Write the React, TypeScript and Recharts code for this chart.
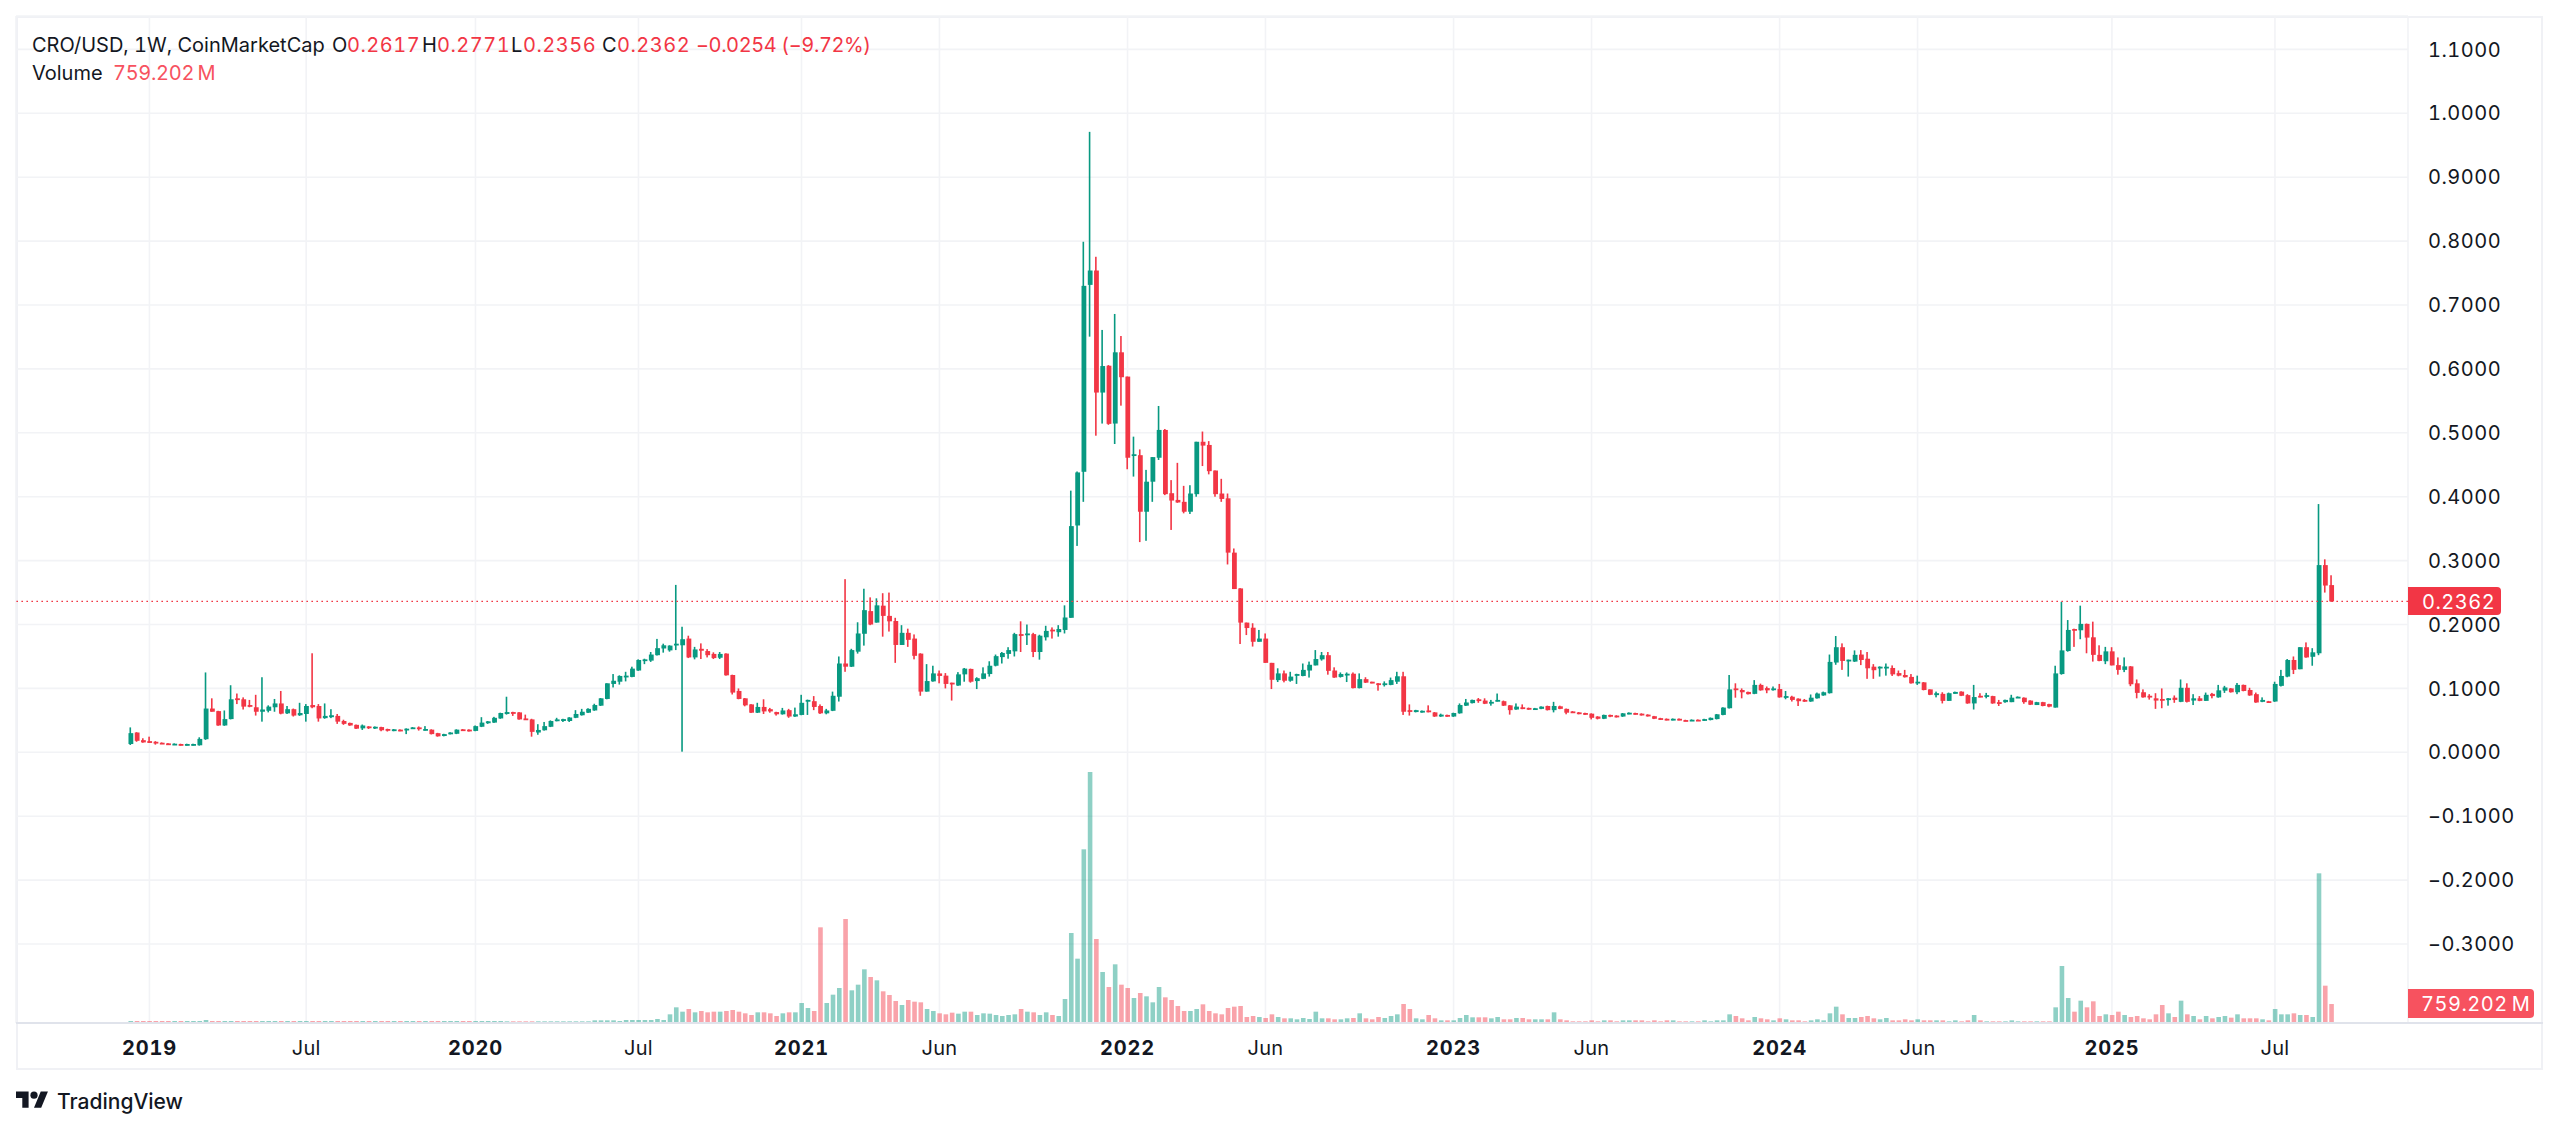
import React from "react";
import { ComposedChart, Bar, XAxis, YAxis, CartesianGrid, ReferenceLine } from "recharts";

const UP = "#089981";
const DOWN = "#F23645";
const FONT = "Inter, 'Noto Sans', sans-serif";
const INK = "#131722";

const opens = [
.013,.031,.019,.0175,.0165,.015,.014,.012,.013,.011,
.011,.011,.0205,.0685,.0645,.042,.052,.0845,.083,.074,
.0705,.0635,.065,.0705,.0765,.061,.0675,.058,.06,.074,
.0725,.0535,.055,.057,.049,.046,.043,.0375,.0405,.0385,
.0395,.0365,.0335,.0355,.0345,.037,.039,.0345,.0355,.03,
.0255,.0285,.029,.036,.0355,.0335,.04,.0455,.0465,.053,
.06,.063,.0625,.053,.0515,.031,.0345,.04,.049,.049,
.049,.054,.058,.062,.0655,.073,.0835,.107,.1105,.1175,
.118,.128,.1435,.1435,.152,.1625,.1595,.1675,.1675,.178,
.1485,.162,.1585,.154,.148,.1545,.121,.096,.0845,.075,
.062,.071,.0675,.063,.0595,.066,.056,.0585,.08,.08,
.0725,.061,.065,.087,.139,.134,.1575,.1855,.221,.203,
.2295,.2135,.2055,.168,.187,.178,.1545,.095,.111,.1235,
.12,.109,.1045,.122,.1305,.1115,.115,.1225,.1355,.149,
.154,.158,.185,.184,.185,.157,.18,.192,.188,.1915,
.2105,.355,.439,.7315,.754,.563,.605,.5145,.626,.588,
.465,.465,.3765,.4235,.461,.5045,.4055,.395,.392,.3765,
.404,.486,.481,.441,.405,.3975,.3125,.2565,.203,.195,
.173,.178,.14,.113,.1235,.112,.1205,.1195,.128,.136,
.1455,.152,.128,.118,.121,.123,.1005,.1145,.1105,.108,
.106,.1055,.1105,.119,.066,.063,.063,.0655,.0625,.056,
.0585,.056,.061,.073,.077,.083,.081,.0765,.08,.08,
.0735,.067,.0705,.0695,.067,.068,.0725,.066,.072,.068,
.064,.0625,.0615,.0605,.056,.0525,.0585,.0575,.056,.06,
.0615,.0605,.059,.0565,.0535,.0525,.0505,.0525,.0505,.0495,
.051,.0495,.0505,.052,.0585,.069,.1,.0975,.0945,.0915,
.1055,.1005,.098,.099,.0855,.087,.084,.082,.0795,.0845,
.089,.0925,.1405,.1645,.143,.142,.153,.1465,.134,.1315,
.1315,.132,.124,.121,.118,.1085,.1095,.0985,.0895,.0915,
.0805,.0915,.095,.0895,.0765,.0885,.087,.088,.0785,.0785,
.0785,.0855,.0855,.081,.074,.0785,.0755,.07,.1225,.1585,
.193,.191,.201,.18,.1525,.1425,.158,.1365,.129,.1345,
.108,.094,.0885,.0845,.0835,.0825,.0855,.079,.101,.081,
.0845,.0805,.0915,.086,.0965,.1,.094,.1055,.0975,.091,
.079,.08,.0795,.104,.1185,.1445,.13,.1645,.1495,.155,
.293,.2617];

const closes = [
.03,.018,.0155,.0155,.014,.0135,.012,.0135,.011,.013,
.013,.021,.0685,.0635,.042,.052,.083,.082,.0715,.0715,
.0635,.067,.0715,.0765,.0605,.0675,.0575,.0615,.0725,.0705,
.053,.057,.058,.048,.0445,.042,.037,.042,.038,.04,
.0345,.034,.036,.0335,.037,.039,.0365,.0365,.0285,.025,
.0285,.031,.0355,.034,.033,.041,.0465,.0485,.054,.0615,
.063,.0605,.0515,.0515,.032,.035,.041,.049,.0515,.052,
.0545,.06,.0635,.068,.074,.0845,.108,.112,.1195,.12,
.131,.1445,.1455,.153,.163,.1675,.167,.17,.177,.1485,
.161,.159,.152,.1475,.154,.1205,.0935,.0835,.0735,.062,
.071,.064,.064,.0595,.0655,.056,.0595,.0775,.082,.071,
.061,.0655,.0885,.139,.134,.16,.186,.2225,.2,.23,
.2135,.205,.168,.187,.176,.151,.095,.1115,.1235,.1195,
.107,.107,.122,.131,.1105,.116,.1235,.1355,.1505,.1555,
.16,.185,.184,.186,.157,.1825,.19,.19,.193,.211,
.354,.438,.73,.754,.563,.6045,.514,.626,.587,.461,
.4665,.3765,.4235,.462,.5045,.404,.394,.391,.3765,.405,
.486,.48,.44,.404,.3965,.3125,.2555,.203,.1945,.173,
.178,.14,.1135,.1235,.112,.1185,.1225,.129,.137,.146,
.152,.1275,.117,.1225,.123,.1005,.1145,.109,.1085,.106,
.108,.113,.119,.0635,.0635,.066,.065,.063,.056,.059,
.056,.0615,.074,.078,.082,.081,.076,.079,.082,.073,
.066,.0715,.068,.067,.069,.0715,.066,.0725,.068,.062,
.062,.06,.059,.054,.0525,.0585,.0565,.055,.061,.062,
.0595,.058,.0565,.0525,.0515,.0505,.0525,.0505,.0495,.051,
.0495,.052,.054,.0595,.07,.0985,.098,.094,.091,.1055,
.097,.097,.1,.086,.088,.082,.08,.0795,.0855,.092,
.094,.1415,.1645,.143,.145,.1525,.1445,.1315,.1285,.134,
.134,.122,.12,.1175,.108,.1105,.0975,.09,.0925,.0805,
.0925,.0945,.0885,.0765,.0865,.0865,.0895,.0765,.0765,.082,
.0855,.087,.0785,.0745,.0785,.0725,.0715,.1235,.1595,.1915,
.191,.201,.1795,.1525,.143,.158,.136,.129,.1345,.1065,
.093,.086,.0865,.081,.081,.0845,.082,.101,.079,.0845,
.0805,.09,.088,.097,.1015,.094,.1055,.096,.089,.078,
.082,.079,.107,.1195,.1445,.129,.1645,.1485,.1565,.293,
.261,.2362];

const highs = [
.039,.0315,.022,.0245,.0175,.0155,.0145,.014,.0135,.0135,
.0135,.0235,.125,.0845,.065,.0655,.105,.092,.086,.082,
.09,.1175,.0735,.0835,.096,.0725,.0685,.0775,.0755,.155,
.0755,.0765,.0675,.06,.051,.0465,.0435,.0435,.041,.0405,
.04,.037,.0365,.036,.0375,.0395,.0405,.041,.036,.0305,
.029,.0315,.036,.0365,.036,.042,.055,.049,.0555,.062,
.087,.0635,.063,.059,.0525,.044,.0475,.05,.054,.0525,
.055,.066,.068,.069,.076,.085,.108,.1225,.1205,.126,
.134,.1455,.1465,.157,.1775,.17,.1675,.262,.1965,.1825,
.165,.1705,.1615,.1565,.157,.155,.1215,.1,.085,.0755,
.0775,.083,.0695,.0635,.0695,.068,.07,.09,.0825,.088,
.075,.068,.095,.15,.271,.162,.2035,.256,.2425,.241,
.249,.25,.2105,.199,.1935,.1845,.155,.138,.1355,.128,
.124,.109,.1255,.132,.131,.1175,.133,.1425,.153,.157,
.1645,.187,.205,.2,.187,.184,.198,.1955,.199,.23,
.4095,.4395,.799,.971,.7755,.661,.606,.686,.6515,.588,
.494,.474,.442,.462,.542,.506,.426,.453,.417,.418,
.486,.502,.487,.441,.428,.405,.319,.257,.203,.202,
.1915,.186,.14,.1315,.128,.126,.123,.139,.142,.16,
.157,.157,.133,.125,.125,.125,.1235,.1175,.1105,.1085,
.111,.117,.126,.126,.075,.0665,.0655,.0735,.063,.0605,
.059,.062,.0765,.0835,.0825,.085,.0845,.082,.092,.081,
.074,.0765,.075,.07,.0695,.072,.073,.079,.073,.0685,
.0645,.063,.062,.061,.0565,.059,.059,.058,.0615,.0625,
.062,.061,.0595,.057,.054,.053,.053,.053,.051,.0515,
.0515,.0525,.0545,.06,.0705,.121,.108,.1,.095,.113,
.1075,.103,.103,.107,.096,.0885,.0845,.0835,.0905,.0935,
.095,.153,.182,.1705,.145,.1595,.16,.157,.138,.1345,
.139,.136,.128,.129,.1225,.12,.11,.0985,.095,.094,
.0935,.095,.0955,.091,.1055,.0925,.093,.0885,.082,.0825,
.09,.0875,.086,.0815,.079,.079,.076,.1355,.2355,.207,
.1935,.2295,.2015,.2045,.1675,.165,.1645,.1485,.1485,.135,
.114,.0985,.091,.0925,.1,.085,.089,.114,.108,.091,
.088,.0935,.093,.1055,.104,.1005,.1085,.106,.101,.0935,
.086,.0805,.1105,.129,.146,.15,.1645,.172,.163,.3885,
.302,.2771];

const lows = [
.0115,.0165,.015,.015,.012,.013,.0115,.0115,.0105,.0105,
.0105,.0105,.0195,.0635,.0415,.0415,.0515,.0755,.067,.0705,
.0575,.048,.0625,.0635,.0595,.06,.056,.057,.048,.069,
.048,.0525,.0535,.0445,.043,.0415,.0365,.035,.0365,.0365,
.033,.0325,.033,.033,.0285,.0365,.034,.034,.028,.0245,
.025,.028,.0285,.0335,.0325,.033,.0395,.0445,.046,.0525,
.059,.057,.051,.051,.0245,.0275,.034,.0395,.0485,.0475,
.0475,.0535,.0575,.0615,.065,.0725,.083,.1015,.106,.111,
.1175,.1275,.138,.1415,.1515,.156,.1575,.16,.001,.1475,
.1455,.146,.1485,.146,.146,.12,.0905,.083,.072,.0615,
.0615,.06,.062,.0575,.059,.054,.0555,.058,.0585,.066,
.06,.0595,.0645,.0795,.126,.1335,.1545,.167,.199,.203,
.181,.189,.14,.168,.165,.1455,.0885,.095,.1105,.108,
.1,.081,.104,.1105,.109,.099,.1145,.1185,.1345,.139,
.1465,.15,.157,.168,.149,.145,.175,.178,.181,.186,
.2105,.323,.392,.6505,.4955,.5145,.5125,.4825,.5425,.443,
.4315,.329,.331,.392,.4575,.4025,.348,.3905,.374,.373,
.4,.448,.435,.4,.392,.294,.2555,.1695,.1835,.1655,
.173,.14,.099,.11,.1095,.1105,.107,.119,.117,.136,
.1435,.1215,.1165,.117,.11,.1,.1,.1085,.108,.0965,
.103,.105,.107,.0585,.0575,.0625,.062,.0625,.0555,.0555,
.0555,.0555,.0605,.0725,.0765,.0775,.0755,.073,.0795,.0725,
.059,.0665,.0675,.0665,.0665,.0675,.0655,.0625,.0675,.0595,
.0615,.0595,.0585,.0515,.0515,.052,.055,.0545,.0555,.0595,
.059,.0575,.056,.052,.051,.05,.05,.05,.049,.049,
.049,.049,.05,.0515,.058,.0685,.0855,.0845,.0905,.091,
.0965,.0925,.0965,.0855,.083,.0795,.0725,.079,.079,.084,
.0885,.092,.137,.129,.1185,.1415,.1365,.115,.115,.1185,
.12,.1195,.119,.117,.1075,.1055,.097,.0895,.086,.0765,
.0805,.0915,.088,.076,.067,.086,.0845,.076,.0725,.0775,
.0785,.0855,.076,.074,.074,.072,.0705,.07,.1215,.1575,
.165,.177,.155,.142,.1425,.138,.136,.1215,.1255,.1035,
.0845,.0855,.0825,.068,.069,.073,.0775,.0785,.078,.074,
.08,.0805,.0845,.0855,.093,.0935,.091,.0955,.0885,.0775,
.0785,.0785,.079,.103,.1175,.1225,.13,.148,.1355,.152,
.25,.2356];

const volumes = [
80,80,80,80,80,80,80,80,80,80,
80,80,120,80,80,80,80,80,80,80,
80,80,80,80,80,80,80,80,80,80,
80,80,80,80,80,80,80,80,80,80,
80,80,80,80,80,80,80,80,80,80,
80,80,80,80,80,80,80,80,80,80,
67,67,67,67,67,67,67,67,67,67,
67,67,67,67,107,107,107,107,80,120,
120,120,120,120,160,120,347,627,453,560,
427,480,427,453,453,480,520,453,387,320,
427,427,387,280,387,427,427,800,600,480,
3827,800,1133,1400,4160,1307,1533,2147,1840,1707,
1267,1120,880,720,920,853,827,560,480,387,
347,413,373,453,453,320,387,373,320,280,
320,347,560,453,427,320,427,320,280,960,
3600,2573,6947,10040,3360,2040,1440,2347,1533,1400,
1000,1200,1067,827,1440,1027,920,680,480,480,
560,747,480,387,347,600,653,680,240,280,
240,200,347,240,187,187,147,200,160,453,
187,187,147,147,187,200,387,187,147,240,
200,280,347,760,560,187,147,320,187,107,
107,107,200,320,227,227,227,187,240,147,
147,200,200,147,147,147,147,427,147,107,
67,67,67,107,67,107,107,67,107,107,
107,107,67,107,67,107,107,67,67,67,
67,107,67,107,107,347,280,187,107,240,
187,147,107,187,147,107,107,67,107,147,
107,387,653,347,200,200,240,280,187,147,
200,107,107,147,107,147,107,107,107,107,
67,107,67,107,320,107,67,67,67,67,
107,67,67,67,67,67,67,627,2280,1000,
453,893,627,867,280,347,320,453,320,240,
280,187,147,347,720,387,240,893,347,280,
147,280,187,240,280,213,347,187,187,187,
147,107,560,347,347,387,320,320,240,5987,
1493,759];

const priceTicks = [-0.3,-0.2,-0.1,0,0.1,0.2,0.3,0.4,0.5,0.6,0.7,0.8,0.9,1,1.1];
const timeTickWeeks = [3,28,55,81,107,129,159,181,211,233,263,285,316,342];
const timeTickLabels = ["2019","Jul","2020","Jul","2021","Jun","2022","Jun","2023","Jun","2024","Jun","2025","Jul"];

const rows = opens.map((open, week) => ({
  week,
  open,
  close: closes[week],
  wick: [lows[week], highs[week]],
  body: [Math.min(open, closes[week]), Math.max(open, closes[week])],
  volume: volumes[week],
}));

const colour = (p: any) => (p.payload.close >= p.payload.open ? UP : DOWN);
const markShape = (minHeight: number, opacity: number) => (p: any) => {
  const top = Math.min(p.y, p.y + p.height);
  return (
    <rect x={p.x} y={top} width={p.width} height={Math.max(Math.abs(p.height), minHeight)}
      fill={colour(p)} fillOpacity={opacity} />
  );
};

const TimeTick = (p: any) => {
  const at = timeTickWeeks.indexOf(p.payload.value);
  const label = timeTickLabels[at];
  const major = /^\d/.test(label);
  return (
    <text x={p.x} y={1048} textAnchor="middle" dominantBaseline="central" fontFamily={FONT}
      fontSize={20} letterSpacing={major ? 0.8 : 0.3} fontWeight={major ? 700 : 400} fill={INK}
      style={{ fontVariantNumeric: "tabular-nums" }}>{label}</text>
  );
};

const formatPrice = (v: number) => (v < 0 ? "\u2212" : "") + Math.abs(v).toFixed(4);

const Abs = ({ x, y, color = INK, size = 20, spacing = 0.5, children }: any) => (
  <span style={{ position: "absolute", left: x, top: y, transform: "translateY(-50%)", color, fontSize: size, letterSpacing: spacing, fontVariantNumeric: "tabular-nums", whiteSpace: "nowrap", lineHeight: 1 }}>{children}</span>
);

export default function App() {
  return (
    <div style={{ position: "absolute", left: 0, top: 0, width: 2560, height: 1130, background: "#fff", overflow: "hidden", fontFamily: FONT }}>
      <div style={{ position: "absolute", left: 16, top: 16, width: 2527, height: 1054, border: "2px solid #F0F1F5", boxSizing: "border-box" }} />
      <ComposedChart width={2560} height={1130} data={rows} margin={{ left: 16, top: 16, right: 17, bottom: 60 }} style={{ position: "absolute", left: 0, top: 0 }}>
        <XAxis xAxisId="time" dataKey="week" type="number" domain={[-18.28, 363.22]} allowDataOverflow ticks={timeTickWeeks}
          interval={0} height={47} axisLine={false} tickLine={false} tick={<TimeTick />} />
        <XAxis xAxisId="wicks" dataKey="week" type="number" domain={[-18.28, 363.22]} allowDataOverflow hide />
        <XAxis xAxisId="bodies" dataKey="week" type="number" domain={[-18.28, 363.22]} allowDataOverflow hide />
        <YAxis yAxisId="price" orientation="right" width={135} domain={[-0.4236, 1.1523]} allowDataOverflow ticks={priceTicks} interval={0}
          axisLine={false} tickLine={false} tickMargin={14} tickFormatter={formatPrice}
          tick={{ fontFamily: FONT, fontSize: 20, letterSpacing: 0.5, fill: INK, textAnchor: "start", style: { fontVariantNumeric: "tabular-nums" } }} />
        <YAxis yAxisId="volume" hide domain={[0, 40280]} allowDataOverflow />
        <CartesianGrid xAxisId="time" yAxisId="price" stroke="#F2F3F6" strokeWidth={1.6} />
        <Bar xAxisId="time" yAxisId="volume" dataKey="volume" barSize={4.6} isAnimationActive={false} shape={markShape(0, 0.46)} />
        <ReferenceLine xAxisId="time" yAxisId="price" y={0.2362} stroke={DOWN} strokeWidth={1.4} strokeDasharray="1.6 3.4" />
        <Bar xAxisId="wicks" yAxisId="price" dataKey="wick" barSize={1.6} isAnimationActive={false} shape={markShape(1, 1)} />
        <Bar xAxisId="bodies" yAxisId="price" dataKey="body" barSize={4.8} isAnimationActive={false} shape={markShape(1.8, 1)} />
      </ComposedChart>

      <div style={{ position: "absolute", left: 16, top: 1022, width: 2527, height: 2, background: "#E0E3EB" }} />

      <Abs x={32} y={45} spacing={0}>CRO/USD, 1W, CoinMarketCap</Abs>
      <Abs x={332} y={45}>O</Abs><Abs x={347} y={45} color={DOWN}>0.2617</Abs>
      <Abs x={422} y={45}>H</Abs><Abs x={437} y={45} color={DOWN}>0.2771</Abs>
      <Abs x={511} y={45}>L</Abs><Abs x={523} y={45} color={DOWN}>0.2356</Abs>
      <Abs x={602} y={45}>C</Abs><Abs x={617} y={45} color={DOWN}>0.2362</Abs>
      <Abs x={696} y={45} color={DOWN} spacing={-0.4}>{"\u22120.0254 (\u22129.72%)"}</Abs>
      <Abs x={32} y={73} spacing={0}>Volume</Abs><Abs x={113} y={73} color="#F7525F" spacing={-0.3}>{"759.202\u2009M"}</Abs>

      <div style={{ position: "absolute", left: 2408, top: 587, width: 93, height: 28, background: DOWN, borderRadius: "0 4px 4px 0" }} />
      <Abs x={2422} y={601.5} color="#fff">0.2362</Abs>
      <div style={{ position: "absolute", left: 2408, top: 989, width: 126, height: 29, background: "#F7525F", borderRadius: "0 4px 4px 0" }} />
      <Abs x={2421} y={1003.5} color="#fff">{"759.202\u2009M"}</Abs>

      <svg width={32.4} height={25.2} viewBox="0 0 36 28" style={{ position: "absolute", left: 16, top: 1088.4 }}>
        <path d="M14 22H7V11H0V4h14v18zM28 22h-8l7.5-18h8L28 22z" fill={INK} />
        <circle cx={20} cy={8} r={4} fill={INK} />
      </svg>
      <Abs x={57} y={1101} size={21} spacing={0}><span style={{ fontWeight: 500 }}>TradingView</span></Abs>
    </div>
  );
}
